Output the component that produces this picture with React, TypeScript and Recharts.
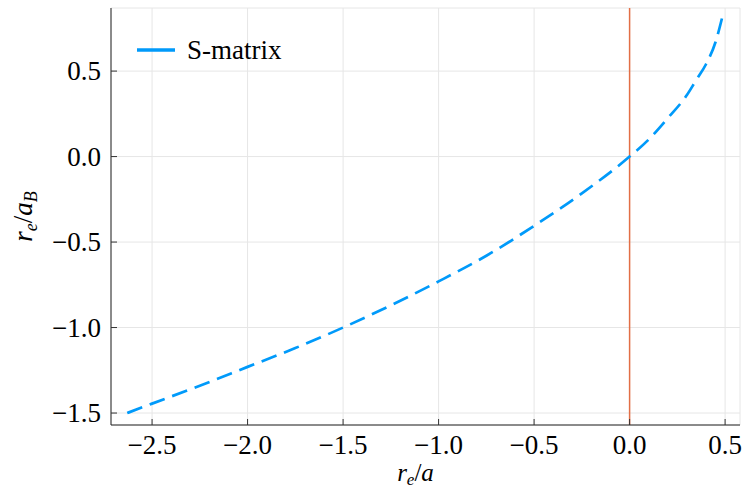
import {
  LineChart,
  Line,
  XAxis,
  YAxis,
  CartesianGrid,
  ReferenceLine,
} from "recharts";

// r_e/a values along the curve
const reOverA = [
  -2.63, -2.5, -2.25, -2.0, -1.75, -1.5, -1.25, -1.0, -0.75, -0.5, -0.25, 0,
  0.1, 0.2, 0.3, 0.35, 0.4, 0.45, 0.484,
];
// r_e/a_B values (S-matrix)
const reOverAB = [
  -1.5, -1.445, -1.34, -1.23, -1.12, -1.0, -0.87, -0.73, -0.58, -0.405, -0.215,
  0, 0.1, 0.225, 0.36, 0.45, 0.54, 0.67, 0.81,
];

const xTicks = [-2.5, -2.0, -1.5, -1.0, -0.5, 0.0, 0.5];
const yTicks = [-1.5, -1.0, -0.5, 0.0, 0.5];

const data = reOverA.map((x, i) => ({ x, y: reOverAB[i] }));

const FONT = "'Liberation Serif', 'Times New Roman', serif";
const FS = 27;
const fmt = (v: number) => (v < 0 ? "\u2212" : "") + Math.abs(v).toFixed(1);

const XTick = ({ x, y, payload }: any) => (
  <g>
    <line x1={x} x2={x} y1={y} y2={y - 6} stroke="#333" strokeWidth={1} />
    <text x={x} y={y + 29} textAnchor="middle" fontFamily={FONT} fontSize={FS} fill="#000">
      {fmt(payload.value)}
    </text>
  </g>
);

const YTick = ({ x, y, payload }: any) => (
  <g>
    <line x1={x} x2={x + 6} y1={y} y2={y} stroke="#333" strokeWidth={1} />
    <text x={x - 10} y={y + 9} textAnchor="end" fontFamily={FONT} fontSize={FS} fill="#000">
      {fmt(payload.value)}
    </text>
  </g>
);

export default function App() {
  return (
    <div style={{ position: "absolute", left: 0, top: 0, width: 745, height: 489, background: "#fff" }}>
      <LineChart
        width={745}
        height={489}
        data={data}
        margin={{ top: 8, right: 5, bottom: 0, left: 0 }}
      >
        <CartesianGrid stroke="#e6e6e6" strokeWidth={1} />
        <XAxis
          dataKey="x"
          type="number"
          domain={[-2.715, 0.578]}
          ticks={xTicks}
          allowDataOverflow
          height={64}
          tickSize={0}
          tickMargin={0}
          tickLine={false}
          axisLine={{ stroke: "#222", strokeWidth: 1 }}
          tick={<XTick />}
          label={({ viewBox }: any) => (
            <text
              x={viewBox.x + viewBox.width / 2 - 10}
              y={viewBox.y + 56}
              textAnchor="middle"
              fontFamily={FONT}
              fontSize={25}
              fontStyle="italic"
            >
              r<tspan dy={4} fontSize={17}>e</tspan>
              <tspan dy={-4} fontStyle="normal">/</tspan>a
            </text>
          )}
        />
        <YAxis
          type="number"
          domain={[-1.57, 0.869]}
          ticks={yTicks}
          allowDataOverflow
          width={111}
          tickSize={0}
          tickMargin={0}
          tickLine={false}
          axisLine={{ stroke: "#222", strokeWidth: 1 }}
          tick={<YTick />}
          label={({ viewBox }: any) => {
            const cx = 32;
            const cy = viewBox.y + viewBox.height / 2;
            return (
              <text
                x={cx}
                y={cy}
                transform={`rotate(-90 ${cx} ${cy})`}
                textAnchor="middle"
                fontFamily={FONT}
                fontSize={FS}
                fontStyle="italic"
              >
                r<tspan dy={5} fontSize={18}>e</tspan>
                <tspan dy={-5} fontStyle="normal">/</tspan>a
                <tspan dy={5} fontSize={18}>B</tspan>
              </text>
            );
          }}
        />
        <ReferenceLine x={0} stroke="#E26F46" strokeWidth={1.5} />
        <Line
          type="monotone"
          dataKey="y"
          stroke="#009AFA"
          strokeWidth={2.7}
          strokeDasharray="16 8"
          dot={false}
          isAnimationActive={false}
        />
      </LineChart>
      <div
        style={{
          position: "absolute",
          top: 34,
          left: 136,
          display: "flex",
          alignItems: "center",
          fontFamily: FONT,
          fontSize: FS,
          lineHeight: "32px",
        }}
      >
        <svg width={40} height={10}>
          <line x1={1} x2={39} y1={5} y2={5} stroke="#009AFA" strokeWidth={3.5} />
        </svg>
        <span style={{ marginLeft: 11 }}>S-matrix</span>
      </div>
    </div>
  );
}
